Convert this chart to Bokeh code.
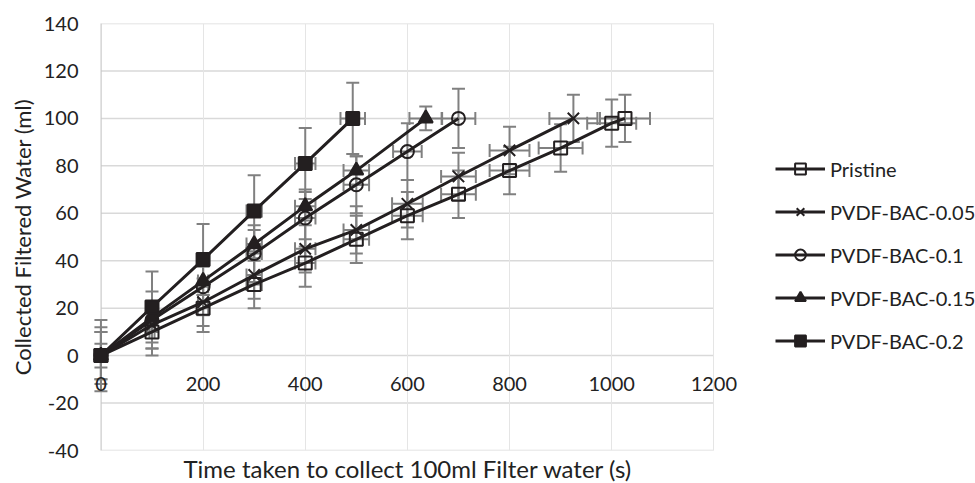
from bokeh.plotting import figure
from bokeh.models import (ColumnDataSource, Whisker, TeeHead, Legend, LegendItem,
                          FixedTicker, Range1d, Title, LinearAxis)
from bokeh.embed import file_html
from bokeh.resources import INLINE

# Time (s) versus collected filtered water (ml) for each membrane
pristine_t = [0, 100, 200, 300, 400, 500, 600, 700, 800, 900, 1000, 1026]
pristine_v = [0, 10, 20, 30, 39, 49, 59, 68, 78, 87.5, 98, 100]
pristine_te = [0, 5, 10, 15, 20, 25, 30, 34, 39, 43, 48, 49]
pristine_ve = [10, 10, 10, 10, 10, 10, 10, 10, 10, 10, 10, 10]

bac005_t = [0, 100, 200, 300, 400, 500, 600, 700, 800, 925]
bac005_v = [0, 13, 22.5, 34, 45, 53, 64, 75.5, 86.5, 100]
bac005_te = [0, 5, 10, 15, 20, 25, 30, 34, 39, 47]
bac005_ve = [10, 10, 10, 10, 10, 10, 10, 10, 10, 10]

bac01_t = [0, 100, 200, 300, 400, 500, 600, 700]
bac01_v = [0, 15, 29, 43, 58, 72, 86, 100]
bac01_te = [0, 5, 10, 15, 20, 25, 28, 33]
bac01_ve = [12, 12, 12, 12, 12, 12, 12, 12.5]

bac015_t = [0, 100, 200, 300, 400, 500, 636]
bac015_v = [0, 16, 31.5, 47, 63, 78, 100]
bac015_te = [0, 5, 10, 15, 20, 25, 32]
bac015_ve = [5, 6, 6, 6, 6, 6, 5]

bac02_t = [0, 100, 200, 300, 400, 493]
bac02_v = [0, 20.5, 40.5, 61, 81, 100]
bac02_te = [0, 5, 10, 15, 20, 24]
bac02_ve = [15, 15, 15, 15, 15, 15]

x_ticks = [0, 200, 400, 600, 800, 1000, 1200]
y_ticks = [-40, -20, 0, 20, 40, 60, 80, 100, 120, 140]

FONT = "Lato"
INK = "#231f20"
TXT = "#222222"
ERR = "#808080"
GRID = "#d9d9d9"

# a little room either side of 0..1200 keeps the end tick labels whole
p = figure(frame_width=664, frame_height=427,
           min_border_left=80, min_border_right=231,
           min_border_top=23, min_border_bottom=33,
           x_range=Range1d(-40, 1260), y_range=Range1d(-40, 140),
           x_axis_location=None, output_backend="svg",
           toolbar_location=None, background_fill_color="white",
           border_fill_color="white")
p.outline_line_color = None
p.ygrid.visible = False

yax = p.yaxis[0]
yax.ticker = FixedTicker(ticks=y_ticks)
yax.major_label_overrides = {t: str(t) for t in y_ticks}
yax.major_tick_in = 0
yax.major_tick_out = 0
yax.minor_tick_in = 0
yax.minor_tick_out = 0
yax.axis_line_color = None
yax.major_label_standoff = 2
yax.major_label_text_font = FONT
yax.major_label_text_font_size = "20px"
yax.major_label_text_color = TXT
yax.axis_label = "Collected Filtered Water (ml)"
yax.axis_label_text_font = FONT
yax.axis_label_text_font_size = "22px"
yax.axis_label_text_font_style = "normal"
yax.axis_label_text_color = TXT
yax.axis_label_standoff = 5

# horizontal gridlines and the vertical axis line over the 0..1200 span
grid_src = ColumnDataSource(dict(x0=[x_ticks[0]] * len(y_ticks),
                                 x1=[x_ticks[-1]] * len(y_ticks), y=y_ticks))
p.segment(x0="x0", x1="x1", y0="y", y1="y", source=grid_src,
          line_color=GRID, line_width=1.5, level="image")
p.segment(x0=[x_ticks[0]], x1=[x_ticks[0]], y0=[y_ticks[0]], y1=[y_ticks[-1]],
          line_color="#c8c8c8", line_width=1.5, level="image")

# horizontal axis crosses the vertical one at zero
xax = LinearAxis(fixed_location=0, ticker=FixedTicker(ticks=x_ticks),
                 major_tick_in=0, major_tick_out=0,
                 minor_tick_in=0, minor_tick_out=0,
                 axis_line_color=None, major_label_standoff=21,
                 major_label_text_font=FONT, major_label_text_font_size="20px",
                 major_label_text_color=TXT)
p.add_layout(xax, "below")

p.add_layout(Title(text="Time taken to collect 100ml Filter water (s)",
                   align="left", text_font=FONT, text_font_size="24px",
                   text_font_style="normal", text_color=TXT, standoff=2,
                   offset=103),
             "below")

series = [
    ("Pristine", pristine_t, pristine_v, pristine_te, pristine_ve, "square", False, 13),
    ("PVDF-BAC-0.05", bac005_t, bac005_v, bac005_te, bac005_ve, "x", False, 16),
    ("PVDF-BAC-0.1", bac01_t, bac01_v, bac01_te, bac01_ve, "circle", False, 13),
    ("PVDF-BAC-0.15", bac015_t, bac015_v, bac015_te, bac015_ve, "triangle", True, 14),
    ("PVDF-BAC-0.2", bac02_t, bac02_v, bac02_te, bac02_ve, "square", True, 13),
]

# error bars first so the lines and markers sit on top
for name, t, v, te, ve, marker, filled, size in series:
    src = ColumnDataSource(dict(
        t=t, v=v,
        vlo=[a - b for a, b in zip(v, ve)], vhi=[a + b for a, b in zip(v, ve)],
        tlo=[a - b for a, b in zip(t, te)], thi=[a + b for a, b in zip(t, te)]))
    for dim, base, lo, hi in (("height", "t", "vlo", "vhi"),
                              ("width", "v", "tlo", "thi")):
        w = Whisker(source=src, base=base, lower=lo, upper=hi, dimension=dim,
                    line_color=ERR, line_width=2, level="underlay",
                    upper_head=TeeHead(size=13, line_color=ERR, line_width=2),
                    lower_head=TeeHead(size=13, line_color=ERR, line_width=2))
        p.add_layout(w)

items = []
for name, t, v, te, ve, marker, filled, size in series:
    src = ColumnDataSource(dict(t=t, v=v))
    ln = p.line("t", "v", source=src, line_color=INK, line_width=3)
    mk = p.scatter("t", "v", source=src, marker=marker, size=size,
                   line_color=INK, line_width=2,
                   fill_color=INK if filled else None,
                   fill_alpha=1 if filled else 0)
    items.append(LegendItem(label=name, renderers=[ln, mk]))

legend = Legend(items=items, location=(31, 96), orientation="vertical",
                glyph_width=50, glyph_height=27, label_height=20,
                spacing=16, padding=0, margin=0, label_standoff=5,
                label_text_font=FONT, label_text_font_size="20px",
                label_text_color=TXT, border_line_color=None,
                background_fill_alpha=0)
p.add_layout(legend, "right")

open("out.html", "w").write(file_html(p, INLINE))
